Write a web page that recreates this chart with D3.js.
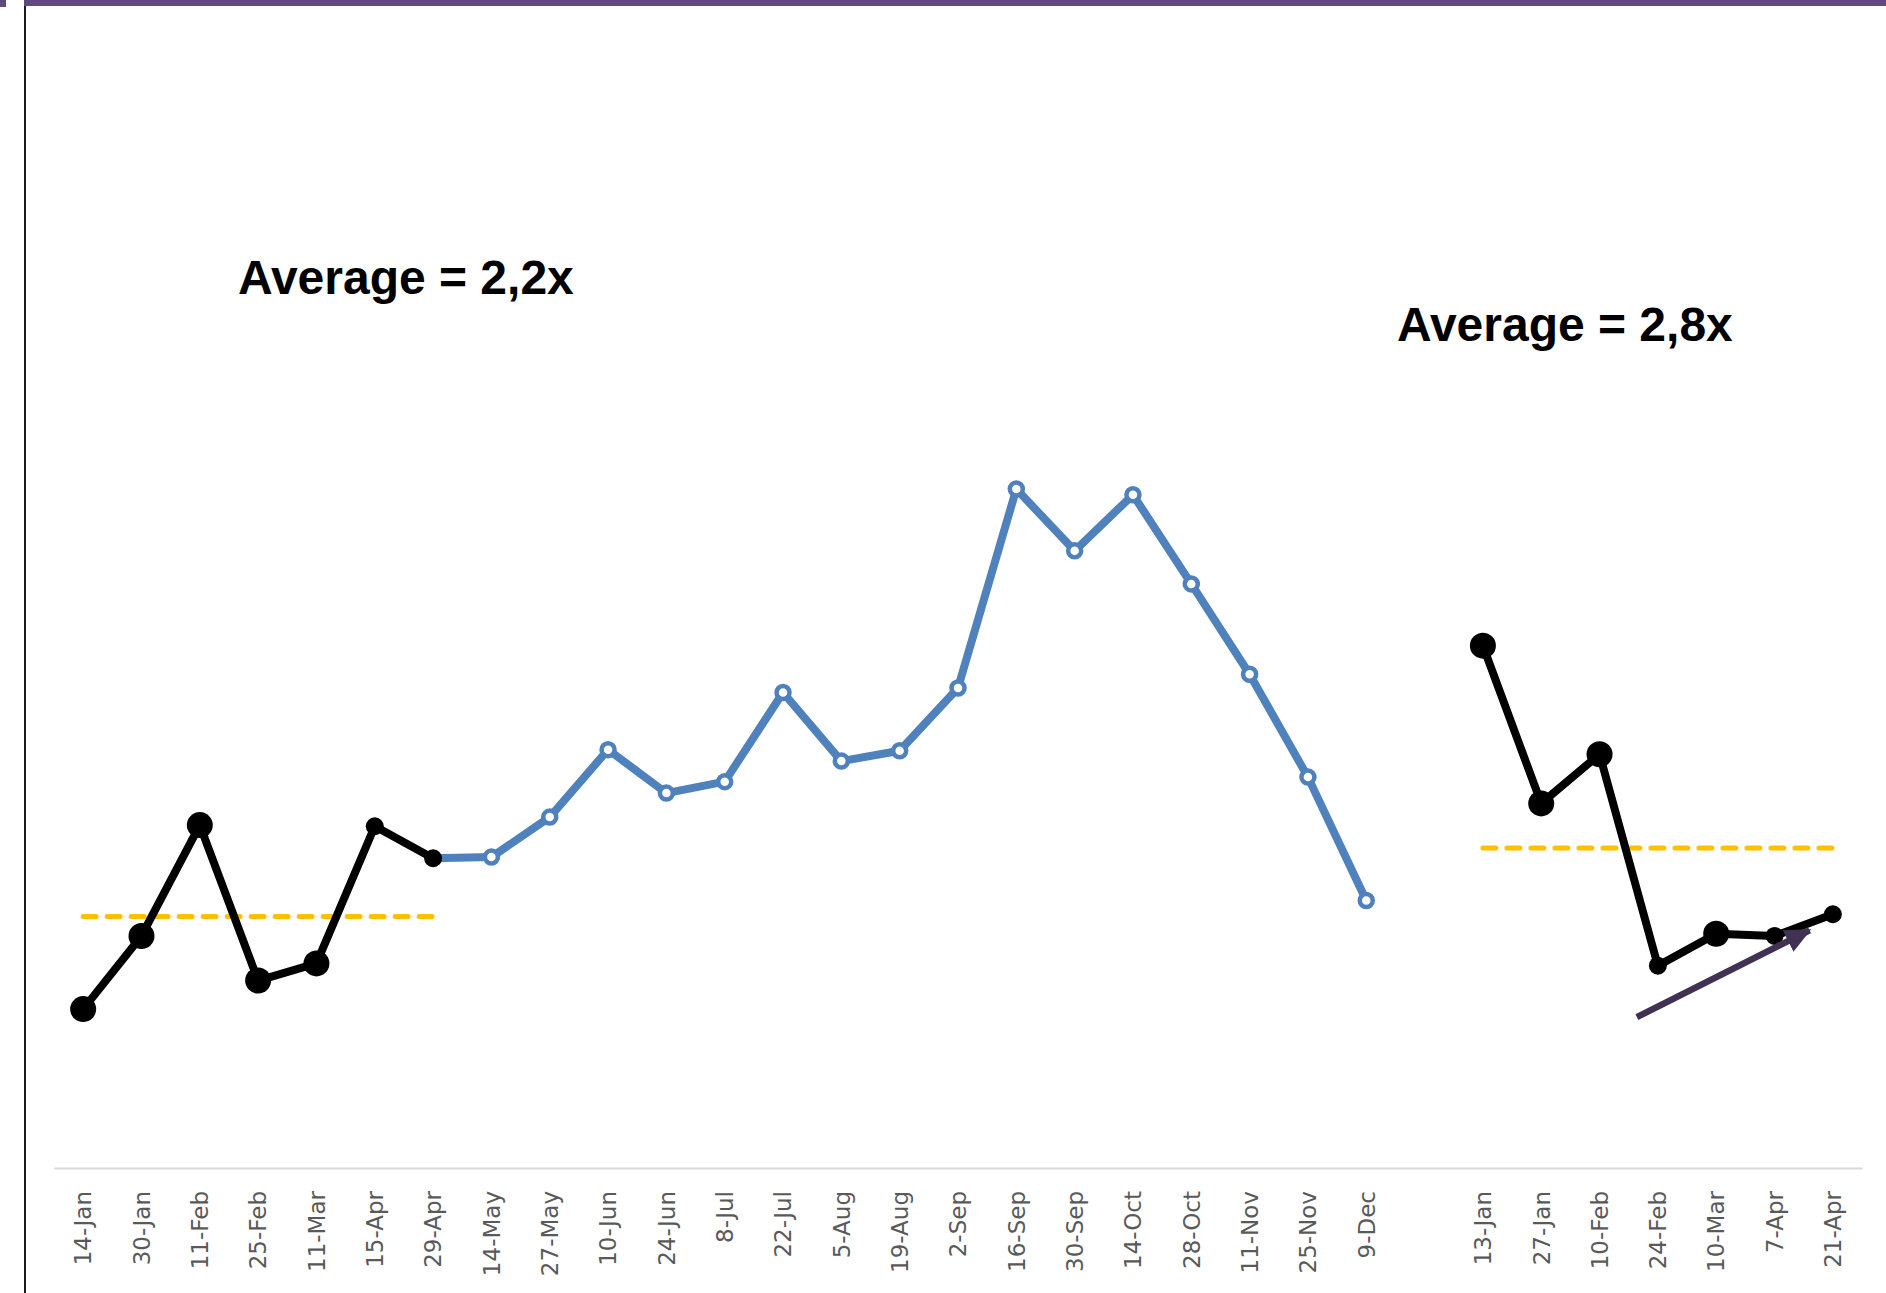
<!DOCTYPE html>
<html>
<head>
<meta charset="utf-8">
<script src="https://cdn.jsdelivr.net/npm/d3@7"></script>
<style>
  html, body { margin: 0; padding: 0; background: #fff; }
  svg { display: block; }
</style>
</head>
<body>
<svg id="chart" width="1886" height="1293"></svg>
<script>
// ---------------- DATA ----------------
const tickLabels = ["14-Jan","30-Jan","11-Feb","25-Feb","11-Mar","15-Apr","29-Apr",
  "14-May","27-May","10-Jun","24-Jun","8-Jul","22-Jul","5-Aug","19-Aug","2-Sep",
  "16-Sep","30-Sep","14-Oct","28-Oct","11-Nov","25-Nov","9-Dec","",
  "13-Jan","27-Jan","10-Feb","24-Feb","10-Mar","7-Apr","21-Apr"];

const beforeDates  = ["14-Jan","30-Jan","11-Feb","25-Feb","11-Mar","15-Apr","29-Apr"];
const beforeValues = [1.39, 2.03, 3.00, 1.64, 1.79, 2.99, 2.71];

const middleDates  = ["29-Apr","14-May","27-May","10-Jun","24-Jun","8-Jul","22-Jul","5-Aug",
  "19-Aug","2-Sep","16-Sep","30-Sep","14-Oct","28-Oct","11-Nov","25-Nov","9-Dec"];
const middleValues = [2.71, 2.72, 3.07, 3.66, 3.28, 3.38, 4.16, 3.56,
  3.65, 4.20, 5.94, 5.40, 5.89, 5.11, 4.32, 3.42, 2.34];

const afterDates  = ["13-Jan","27-Jan","10-Feb","24-Feb","10-Mar","7-Apr","21-Apr"];
const afterValues = [4.57, 3.19, 3.62, 1.77, 2.05, 2.03, 2.22];

const averageValues = [2.2, 2.8];
const averageTexts  = ["Average = 2,2x", "Average = 2,8x"];

// trend arrow annotation (category index, value)
const arrowFrom = [26.64, 1.32];
const arrowTo   = [29.60, 2.08];

// ---------------- STYLE ----------------
const bigMarkerDates = new Set(["14-Jan","30-Jan","11-Feb","25-Feb","11-Mar","13-Jan","27-Jan","10-Feb","10-Mar"]);
const W = 1886, H = 1293;
const axisY = 1168, plotLeft = 54, plotRight = 1862, plotTop = 25;

const svg = d3.select("#chart");

// scales
const x = d3.scaleBand().domain(tickLabels).range([plotLeft, plotRight]).padding(0);
const cx = d => x(d) + x.bandwidth() / 2;
const xi = d3.scaleLinear().domain([0, tickLabels.length - 1])
  .range([cx(tickLabels[0]), cx(tickLabels[tickLabels.length - 1])]);
const y = d3.scaleLinear().domain([0, 10]).range([axisY, plotTop]);

// frame decorations
svg.append("rect").attr("x", 0).attr("y", 0).attr("width", 6).attr("height", 7).attr("fill", "#5F4A7B");
svg.append("rect").attr("x", 24).attr("y", 0).attr("width", W - 24).attr("height", 6).attr("fill", "#5F4A7B");
svg.append("line").attr("x1", 25).attr("x2", 25).attr("y1", 6).attr("y2", H)
  .attr("stroke", "#1a1a1a").attr("stroke-width", 2);

// axis
const axis = d3.axisBottom(x).tickSize(0).tickPadding(0);
const gAxis = svg.append("g").attr("transform", `translate(0,${axisY})`).call(axis);
gAxis.select(".domain").attr("stroke", "#D9D9D9").attr("stroke-width", 2);
gAxis.selectAll(".tick text")
  .attr("transform", "rotate(-90)")
  .attr("x", -23).attr("y", 0).attr("dy", "0.36em")
  .style("text-anchor", "end")
  .style("font-family", "'DejaVu Sans', sans-serif")
  .style("font-size", "23px")
  .attr("fill", "#595959");

// average dashed lines
const avgGroups = [beforeDates, afterDates];
avgGroups.forEach((dates, i) => {
  svg.append("line")
    .attr("x1", cx(dates[0])).attr("x2", cx(dates[dates.length - 1]))
    .attr("y1", y(averageValues[i])).attr("y2", y(averageValues[i]))
    .attr("stroke", "#FFC000").attr("stroke-width", 5)
    .attr("stroke-linecap", "round").attr("stroke-dasharray", "13,11");
});

// blue middle series
const line = d3.line().x(d => cx(d[0])).y(d => y(d[1]));
const middle = middleDates.map((d, i) => [d, middleValues[i]]);
svg.append("path").datum(middle).attr("d", line)
  .attr("fill", "none").attr("stroke", "#4F81BD").attr("stroke-width", 8)
  .attr("stroke-linejoin", "round");
svg.selectAll(".bm").data(middle.slice(1)).enter().append("circle")
  .attr("cx", d => cx(d[0])).attr("cy", d => y(d[1])).attr("r", 6.5)
  .attr("fill", "#fff").attr("stroke", "#4F81BD").attr("stroke-width", 4.5);

// black series
[[beforeDates, beforeValues], [afterDates, afterValues]].forEach(([dates, vals]) => {
  const pts = dates.map((d, i) => [d, vals[i]]);
  svg.append("path").datum(pts).attr("d", line)
    .attr("fill", "none").attr("stroke", "#000").attr("stroke-width", 8)
    .attr("stroke-linejoin", "round");
  svg.selectAll(null).data(pts).enter().append("circle")
    .attr("cx", d => cx(d[0])).attr("cy", d => y(d[1]))
    .attr("r", d => bigMarkerDates.has(d[0]) ? 13 : 9)
    .attr("fill", "#000");
});

// trend arrow
const defs = svg.append("defs");
defs.append("marker").attr("id", "arrowhead")
  .attr("markerUnits", "userSpaceOnUse")
  .attr("viewBox", "0 0 26 26").attr("refX", 24).attr("refY", 13)
  .attr("markerWidth", 26).attr("markerHeight", 26).attr("orient", "auto")
  .append("path").attr("d", "M0,1 L26,13 L0,25 Z").attr("fill", "#413152");
svg.append("line")
  .attr("x1", xi(arrowFrom[0])).attr("y1", y(arrowFrom[1]))
  .attr("x2", xi(arrowTo[0])).attr("y2", y(arrowTo[1]))
  .attr("stroke", "#413152").attr("stroke-width", 6.5)
  .attr("marker-end", "url(#arrowhead)");

// average labels
const labelPos = [[238, 294], [1397, 341]];
averageTexts.forEach((t, i) => {
  svg.append("text").attr("x", labelPos[i][0]).attr("y", labelPos[i][1])
    .style("font-family", "'Liberation Sans', Arial, sans-serif")
    .style("font-weight", "bold").style("font-size", "48px")
    .attr("fill", "#000").text(t);
});
</script>
</body>
</html>
